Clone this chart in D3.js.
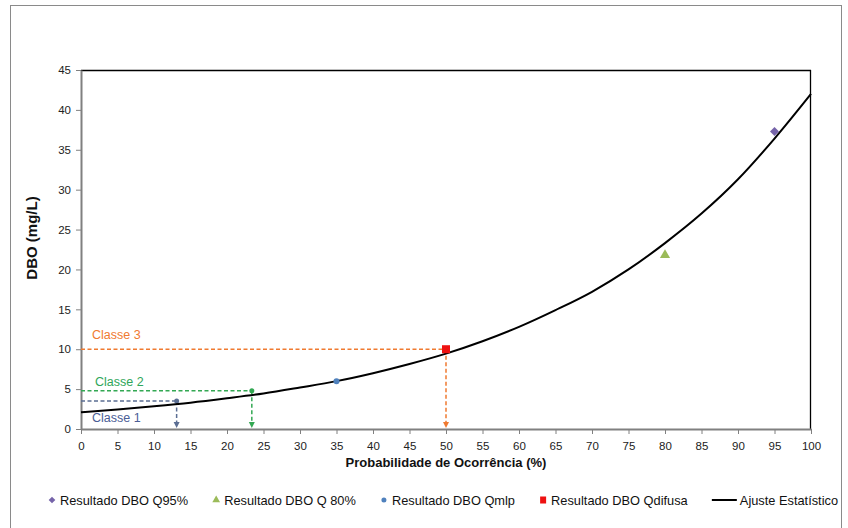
<!DOCTYPE html>
<html>
<head>
<meta charset="utf-8">
<script src="https://cdn.jsdelivr.net/npm/d3@7"></script>
<style>
  html, body { margin: 0; padding: 0; background: #fff; }
  svg { display: block; font-family: Arial, "Liberation Sans", sans-serif; }
</style>
</head>
<body>
<svg id="chart" width="848" height="528"></svg>
<script>
// ---- data ----
const xTicks = [0,5,10,15,20,25,30,35,40,45,50,55,60,65,70,75,80,85,90,95,100];
const yTicks = [0,5,10,15,20,25,30,35,40,45];

const fitX = [0,5,10,15,20,25,30,35,40,45,50,55,60,65,70,75,80,85,90,95,100];
const fitY = [2.1,2.45,2.85,3.3,3.85,4.45,5.2,6.0,7.0,8.15,9.45,11.0,12.8,14.9,17.2,20.0,23.3,27.0,31.3,36.4,42.0];

const q95X = [95],  q95Y = [37.3];
const q80X = [80],  q80Y = [21.8];
const qmlpX = [35], qmlpY = [6.0];
const qdifX = [50], qdifY = [10.0];

const classNames = ["Classe 1", "Classe 2", "Classe 3"];
const classX = [13.1, 23.4, 50];
const classY = [3.5, 4.8, 10];

const legendLabels = ["Resultado DBO Q95%", "Resultado DBO Q 80%", "Resultado DBO Qmlp", "Resultado DBO Qdifusa", "Ajuste Estatístico"];

// ---- layout ----
const svg = d3.select("#chart");
const L = 81, R = 811, T = 70, B = 429;
const x = d3.scaleLinear().domain([0,100]).range([L,R]);
const y = d3.scaleLinear().domain([0,45]).range([B,T]);

const colQ95 = "#7563A9", colQ80 = "#9BBB59", colQmlp = "#4F81BD", colQdif = "#EE1111";
const classLineCol = ["#5B6E93", "#33A853", "#F07A30"];
const classTextCol = ["#4A5E96", "#2FA65A", "#F07A30"];

// outer border
svg.append("rect").attr("x",10.5).attr("y",5.5).attr("width",831).attr("height",540)
  .attr("fill","none").attr("stroke","#8a8a8a").attr("stroke-width",1);

// plot frame top/right black
svg.append("line").attr("x1",L).attr("x2",R).attr("y1",T+0.5).attr("y2",T+0.5).attr("stroke","#000").attr("stroke-width",1.3);
svg.append("line").attr("x1",R-0.5).attr("x2",R-0.5).attr("y1",T).attr("y2",B).attr("stroke","#000").attr("stroke-width",1.3);

// axes
const xAxis = d3.axisBottom(x).tickValues(xTicks).tickSize(5).tickSizeOuter(0).tickPadding(8);
const yAxis = d3.axisLeft(y).tickValues(yTicks).tickSize(5).tickSizeOuter(0).tickPadding(5);

const gx = svg.append("g").attr("transform",`translate(0,${B})`).call(xAxis);
const gy = svg.append("g").attr("transform",`translate(${L},0)`).call(yAxis);
[gx, gy].forEach(g => {
  g.select(".domain").attr("stroke","#808080").attr("stroke-width",2);
  g.selectAll(".tick line").attr("stroke","#808080").attr("stroke-width",1);
  g.selectAll(".tick text").attr("fill","#222").style("font-size","11.5px").style("font-family","Arial, 'Liberation Sans', sans-serif");
});

// axis titles
svg.append("text").attr("x",(L+R)/2).attr("y",467).attr("text-anchor","middle")
  .style("font-size","13px").style("font-weight","bold").attr("fill","#111")
  .text("Probabilidade de Ocorrência (%)");
svg.append("text").attr("transform","translate(37,238) rotate(-90)").attr("text-anchor","middle")
  .style("font-size","15px").style("font-weight","bold").attr("fill","#111")
  .text("DBO (mg/L)");

// class guide lines
const arrowDown = (cx, cy, col) => {
  svg.append("path").attr("d", `M${cx-3},${cy-6} L${cx+3},${cy-6} L${cx},${cy} Z`).attr("fill", col);
};
classNames.forEach((n,i) => {
  const col = classLineCol[i];
  svg.append("line").attr("x1",x(0)).attr("x2",x(classX[i])).attr("y1",y(classY[i])).attr("y2",y(classY[i]))
    .attr("stroke",col).attr("stroke-width",1.5).attr("stroke-dasharray","4,2.5");
  svg.append("line").attr("x1",x(classX[i])).attr("x2",x(classX[i])).attr("y1",y(classY[i])).attr("y2",y(0)-5)
    .attr("stroke",col).attr("stroke-width",1.5).attr("stroke-dasharray","4,2.5");
  svg.append("circle").attr("cx",x(classX[i])).attr("cy",y(classY[i])).attr("r",2.5).attr("fill",col);
  arrowDown(x(classX[i]), y(0)-1, col);
});

// class labels
const labelPos = [[92,422],[95,386],[92,339]];
classNames.forEach((n,i) => {
  svg.append("text").attr("x",labelPos[i][0]).attr("y",labelPos[i][1])
    .style("font-size","12.5px").attr("fill",classTextCol[i]).text(n);
});

// fit curve
const fitData = fitX.map((v,i)=>[v, fitY[i]]);
svg.append("path").datum(fitData)
  .attr("d", d3.line().x(d=>x(d[0])).y(d=>y(d[1])).curve(d3.curveMonotoneX))
  .attr("fill","none").attr("stroke","#000").attr("stroke-width",2);

// markers
const sym = (type, size) => d3.symbol().type(type).size(size)();
q95X.forEach((v,i)=> svg.append("path").attr("d",sym(d3.symbolSquare,40))
  .attr("transform",`translate(${x(v)},${y(q95Y[i])}) rotate(45)`).attr("fill",colQ95));
q80X.forEach((v,i)=> svg.append("path").attr("d",sym(d3.symbolTriangle,45))
  .attr("transform",`translate(${x(v)},${y(q80Y[i])})`).attr("fill",colQ80));
qmlpX.forEach((v,i)=> svg.append("circle").attr("cx",x(v)).attr("cy",y(qmlpY[i])).attr("r",3)
  .attr("fill",colQmlp));
qdifX.forEach((v,i)=> svg.append("rect").attr("x",x(v)-4).attr("y",y(qdifY[i])-4).attr("width",8).attr("height",8)
  .attr("fill",colQdif));

// legend (items spread evenly between 48 and 838)
const ly = 500;
const lg = svg.append("g");
const texts = legendLabels.map(t => lg.append("text").attr("y",ly+4.5).style("font-size","12.8px").attr("fill","#111").text(t));
const tw = texts.map(t => t.node().getComputedTextLength());
const symW = [12,12,12,12,28];
const total = d3.sum(tw) + d3.sum(symW);
const gap = (838 - 48 - total) / 4;
let cur = 48;
const drawSym = [
  sx => lg.append("path").attr("d",sym(d3.symbolSquare,22)).attr("transform",`translate(${sx+4},${ly}) rotate(45)`).attr("fill",colQ95),
  sx => lg.append("path").attr("d",sym(d3.symbolTriangle,26)).attr("transform",`translate(${sx+4},${ly})`).attr("fill",colQ80),
  sx => lg.append("circle").attr("cx",sx+4).attr("cy",ly).attr("r",2.5).attr("fill",colQmlp),
  sx => lg.append("rect").attr("x",sx+1).attr("y",ly-3.5).attr("width",6).attr("height",7).attr("fill",colQdif),
  sx => lg.append("line").attr("x1",sx).attr("x2",sx+25).attr("y1",ly).attr("y2",ly).attr("stroke","#000").attr("stroke-width",2)
];
legendLabels.forEach((t,i) => {
  drawSym[i](cur);
  texts[i].attr("x", cur + symW[i]);
  cur += symW[i] + tw[i] + gap;
});
</script>
</body>
</html>
